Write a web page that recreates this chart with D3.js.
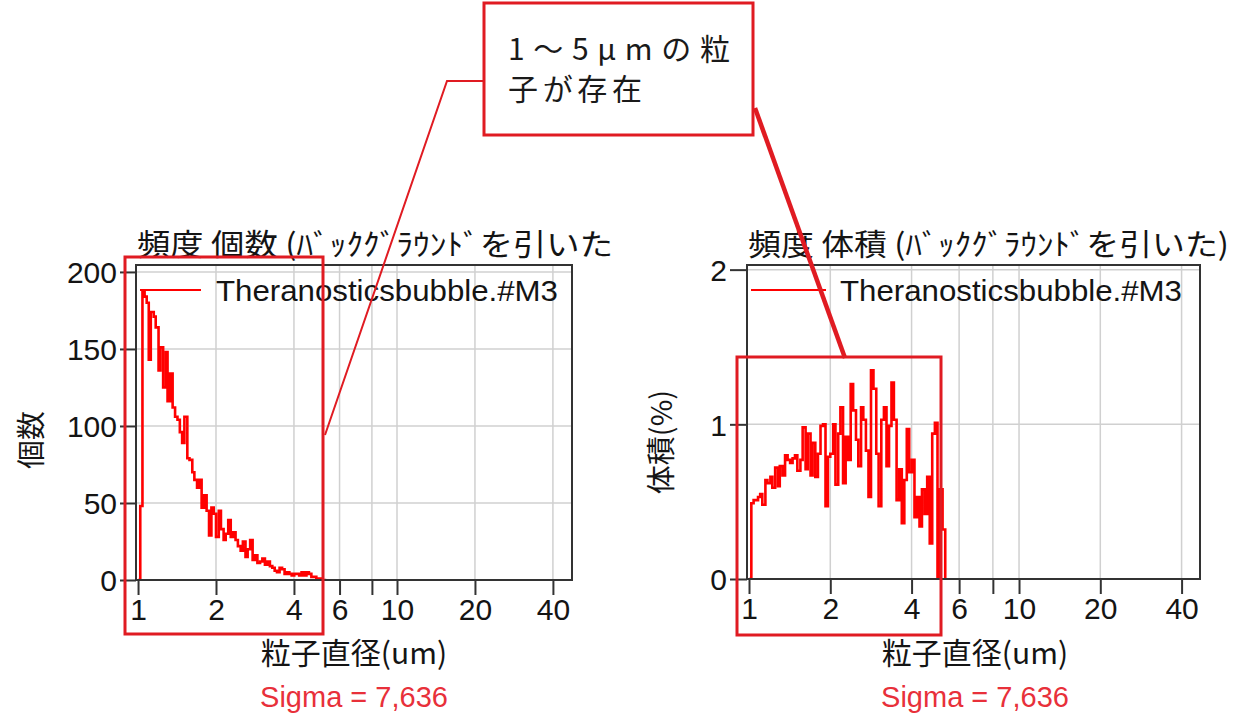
<!DOCTYPE html>
<html>
<head>
<meta charset="utf-8">
<script src="https://cdn.jsdelivr.net/npm/d3@7"></script>
<style>
  body { margin: 0; background: #fff; }
  svg { display: block; }
</style>
</head>
<body>
<div id="chart"></div>
<script>
// bin edges (um)
const diam = [
  1.00, 1.02, 1.04, 1.06, 1.08, 1.10, 1.12, 1.15, 1.17, 1.20,
  1.22, 1.25, 1.28, 1.30, 1.33, 1.36, 1.39, 1.42, 1.45, 1.48,
  1.51, 1.55, 1.58, 1.62, 1.65, 1.69, 1.72, 1.76, 1.80, 1.84,
  1.88, 1.92, 1.96, 2.00, 2.05, 2.09, 2.14, 2.18, 2.23, 2.28,
  2.33, 2.38, 2.43, 2.49, 2.54, 2.60, 2.65, 2.71, 2.77, 2.83,
  2.89, 2.96, 3.02, 3.09, 3.16, 3.23, 3.30, 3.37, 3.44, 3.52,
  3.60, 3.68, 3.76, 3.84, 3.92, 4.01, 4.10, 4.19, 4.28, 4.37,
  4.47, 4.57, 4.67, 4.77, 4.88, 4.99, 5.10, 5.21, 5.33
];

// 頻度 個数
const countValues = [
  0, 48, 188, 184, 180, 143, 174, 171, 164, 136,
  151, 125, 148, 116, 134, 112, 106, 104, 96, 89,
  106, 79, 78, 70, 65, 60, 65, 47, 55, 45,
  29, 47, 43, 28, 45, 33, 26, 30, 39, 28,
  31, 26, 22, 19, 25, 15, 20, 26, 13, 16,
  11, 12, 14, 10, 12, 9, 8, 6, 5, 8,
  7, 4, 5, 4, 3, 4, 4, 3, 5, 3,
  5, 4, 2, 2, 1, 1, 0, 0
];

// 頻度 体積 (%)
const volumeValues = [
  0, 0.49, 0.51, 0.51, 0.53, 0.55, 0.48, 0.64, 0.62, 0.66,
  0.59, 0.72, 0.60, 0.73, 0.67, 0.80, 0.77, 0.75, 0.78, 0.80,
  0.70, 0.77, 0.98, 0.71, 0.94, 0.67, 0.88, 0.66, 0.81, 0.99,
  1.00, 0.47, 0.79, 0.81, 1.00, 0.61, 0.94, 1.11, 0.62, 0.92,
  0.77, 1.26, 1.09, 0.90, 0.73, 1.11, 1.03, 0.83, 0.53, 1.35,
  1.23, 0.81, 0.47, 1.03, 1.11, 0.73, 0.99, 1.27, 1.03, 0.51,
  0.71, 0.36, 0.64, 0.97, 0.69, 0.77, 0.40, 0.53, 0.34, 0.58,
  0.42, 0.66, 0.23, 0.94, 1.01, 0, 0.58, 0.32
];

const xTicks = [1, 2, 4, 6, 8, 10, 20, 40];
const xTickLabels = ["1", "2", "4", "6", "", "10", "20", "40"];
const countTicks = [0, 50, 100, 150, 200];
const volumeTicks = [0, 1, 2];

const seriesName = "Theranosticsbubble.#M3";
const xTitle = "粒子直径(um)";
const sigmaText = "Sigma = 7,636";
const calloutLines = ["1～5μmの粒", "子が存在"];

const width = 1246;
const height = 720;
const RED = "#ff0000";
const MARK = "#e01b22";
const INK = "#141414";
const FONT = "'Liberation Sans', Arial, 'Noto Sans CJK JP', sans-serif";
const JFONT = "'Noto Sans CJK JP', 'Liberation Sans', sans-serif";

const svg = d3.select("#chart")
  .append("svg")
  .attr("width", width)
  .attr("height", height)
  .style("background", "#fff");

function drawPanel(p) {
  const x = d3.scaleLog().domain(p.xDomain).range([p.left, p.right]);
  const y = d3.scaleLinear().domain(p.yDomain).range([p.bottom, p.top]);

  const g = svg.append("g");

  // grid
  g.append("g")
    .selectAll("line")
    .data(xTicks.filter(t => t > 1))
    .join("line")
    .attr("x1", d => x(d)).attr("x2", d => x(d))
    .attr("y1", p.top).attr("y2", p.bottom)
    .attr("stroke", "#d0d0d0").attr("stroke-width", 1.5);

  g.append("g")
    .selectAll("line")
    .data(p.yTicks.filter(t => t > 0))
    .join("line")
    .attr("x1", p.left).attr("x2", p.right)
    .attr("y1", d => y(d)).attr("y2", d => y(d))
    .attr("stroke", "#d0d0d0").attr("stroke-width", 1.5);

  // data
  const clipId = "clip-" + p.id;
  svg.append("clipPath").attr("id", clipId)
    .append("rect")
    .attr("x", p.left).attr("y", p.top)
    .attr("width", p.right - p.left).attr("height", p.bottom - p.top);

  const pts = p.values.map((v, i) => [diam[i], v]);
  pts.push([diam[p.values.length], 0]);

  const line = d3.line()
    .curve(d3.curveStepAfter)
    .x(d => x(d[0]))
    .y(d => y(d[1]));

  g.append("path")
    .datum(pts)
    .attr("clip-path", `url(#${clipId})`)
    .attr("fill", "none")
    .attr("stroke", RED)
    .attr("stroke-width", 2.6)
    .attr("d", line);

  // frame
  g.append("rect")
    .attr("x", p.left).attr("y", p.top)
    .attr("width", p.right - p.left).attr("height", p.bottom - p.top)
    .attr("fill", "none")
    .attr("stroke", "#333").attr("stroke-width", 2);

  // axes
  const ax = g.append("g")
    .attr("transform", `translate(0,${p.bottom})`)
    .call(d3.axisBottom(x).tickValues(xTicks)
      .tickFormat((d, i) => xTickLabels[i])
      .tickSize(15).tickSizeOuter(0).tickPadding(4));
  const ay = g.append("g")
    .attr("transform", `translate(${p.left},0)`)
    .call(d3.axisLeft(y).tickValues(p.yTicks)
      .tickFormat(d3.format("d"))
      .tickSize(p.tickLen).tickSizeOuter(0).tickPadding(3));

  [ax, ay].forEach(a => {
    a.select(".domain").remove();
    a.selectAll(".tick line").attr("stroke", "#333").attr("stroke-width", 2);
    a.selectAll(".tick text")
      .attr("fill", INK)
      .style("font-family", FONT)
      .style("font-size", "30px");
  });
  ay.selectAll(".tick text").attr("dy", "0.36em");

  // title
  g.append("text")
    .attr("x", p.left + 1).attr("y", 255)
    .attr("textLength", p.titleLen)
    .attr("lengthAdjust", "spacingAndGlyphs")
    .attr("fill", INK)
    .style("font-family", JFONT)
    .style("font-size", "30px")
    .text(p.title);

  // legend
  g.append("line")
    .attr("x1", p.left + 4).attr("x2", p.legendLineEnd)
    .attr("y1", 290).attr("y2", 290)
    .attr("stroke", RED).attr("stroke-width", 2);
  g.append("text")
    .attr("x", p.legendText).attr("y", 301)
    .attr("textLength", 342)
    .attr("lengthAdjust", "spacingAndGlyphs")
    .attr("fill", INK)
    .style("font-family", FONT)
    .style("font-size", "30px")
    .text(seriesName);

  // y title
  g.append("text")
    .attr("transform", `translate(${p.yTitleX},${p.yTitleY}) rotate(-90)`)
    .attr("text-anchor", "middle")
    .attr("fill", INK)
    .style("font-family", JFONT)
    .style("font-size", "29px")
    .text(p.yTitle);

  // x title & sigma
  g.append("text")
    .attr("x", p.xTitleX).attr("y", 664)
    .attr("text-anchor", "middle")
    .attr("fill", INK)
    .style("font-family", JFONT)
    .style("font-size", "30px")
    .text(xTitle);
  g.append("text")
    .attr("x", p.xTitleX).attr("y", 707)
    .attr("text-anchor", "middle")
    .attr("fill", "#e8303a")
    .style("font-family", FONT)
    .style("font-size", "29px")
    .text(sigmaText);

  // highlight box
  g.append("rect")
    .attr("x", p.box[0]).attr("y", p.box[1])
    .attr("width", p.box[2] - p.box[0]).attr("height", p.box[3] - p.box[1])
    .attr("fill", "none")
    .attr("stroke", MARK).attr("stroke-width", 3);
}

drawPanel({
  id: "count",
  left: 136, right: 572, top: 265, bottom: 580,
  xDomain: [0.982, 47.4], yDomain: [0, 204.5],
  values: countValues, yTicks: countTicks, tickLen: 16,
  title: "頻度 個数 (ﾊﾞｯｸｸﾞﾗｳﾝﾄﾞを引いた", titleLen: 476,
  legendLineEnd: 201, legendText: 216,
  yTitle: "個数", yTitleX: 42, yTitleY: 440,
  xTitleX: 354,
  box: [125, 257, 323, 634]
});

drawPanel({
  id: "volume",
  left: 747, right: 1200, top: 265, bottom: 579,
  xDomain: [0.983, 46.8], yDomain: [0, 2.03],
  values: volumeValues, yTicks: volumeTicks, tickLen: 17,
  title: "頻度 体積 (ﾊﾞｯｸｸﾞﾗｳﾝﾄﾞを引いた)", titleLen: 481,
  legendLineEnd: 826, legendText: 840,
  yTitle: "体積(%)", yTitleX: 672, yTitleY: 442,
  xTitleX: 975,
  box: [737, 357, 941, 635]
});

// callout
svg.append("polyline")
  .attr("points", "484,81 447,81 325,435")
  .attr("fill", "none")
  .attr("stroke", MARK).attr("stroke-width", 2);
svg.append("line")
  .attr("x1", 755).attr("y1", 108)
  .attr("x2", 845).attr("y2", 358)
  .attr("stroke", MARK).attr("stroke-width", 4.5);

svg.append("rect")
  .attr("x", 484).attr("y", 3)
  .attr("width", 269).attr("height", 132)
  .attr("fill", "#fff")
  .attr("stroke", MARK).attr("stroke-width", 3);

svg.append("g")
  .selectAll("text")
  .data(calloutLines)
  .join("text")
  .attr("x", 508)
  .attr("y", (d, i) => 60 + i * 40)
  .attr("textLength", (d, i) => i === 0 ? 222 : 134)
  .attr("lengthAdjust", "spacing")
  .attr("fill", "#1a1a1a")
  .style("font-family", JFONT)
  .style("font-size", "30px")
  .text(d => d);
</script>
</body>
</html>
